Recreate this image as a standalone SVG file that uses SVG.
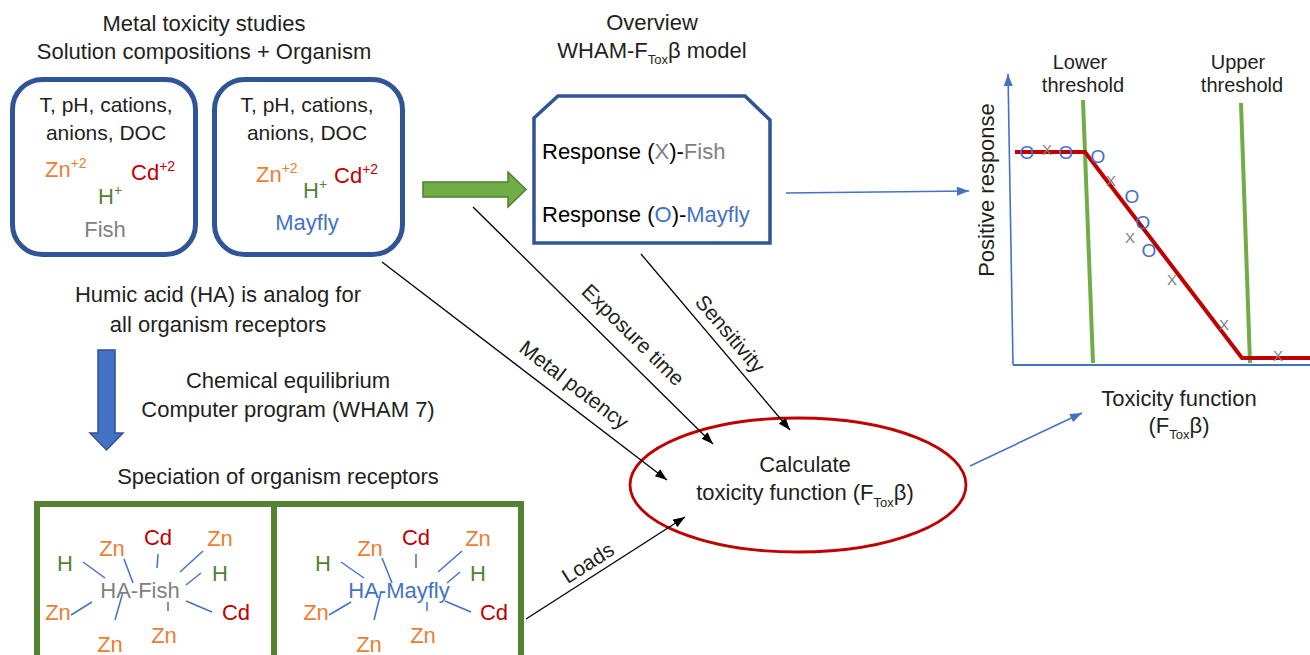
<svg xmlns="http://www.w3.org/2000/svg" width="1310" height="655" viewBox="0 0 1310 655">
  <defs>
    <style>
      text { font-family: "Liberation Sans", Arial, sans-serif; fill: #231F20; }
      .t22 { font-size: 22px; }
      .t21 { font-size: 21px; }
      .t20 { font-size: 20px; }
      .zn { fill: #ED7D31; }
      .cd { fill: #C00000; }
      .h { fill: #548235; }
      .fish { fill: #7F7F7F; }
      .may { fill: #4472C4; }
      .sup { font-size: 14px; }
      .sub { font-size: 13px; }
      .obox { fill: #fff; stroke: #2F5597; stroke-width: 5; }
      .gbox { fill: none; stroke: #548235; stroke-width: 6; }
      .link { stroke: #000; stroke-width: 1.3; fill: none; }
      .blink { stroke: #4472C4; stroke-width: 1.6; fill: none; }
      .tick { stroke: #4472C4; stroke-width: 1.5; }
      .o { font-size: 19px; fill: #4472C4; }
      .x { font-size: 15px; fill: #7F7F7F; }
    </style>
    <marker id="ah" viewBox="0 0 12 9" refX="12" refY="4.5" markerWidth="12" markerHeight="9" markerUnits="userSpaceOnUse" orient="auto">
      <path d="M0,0 L12,4.5 L0,9 z" fill="#000"/>
    </marker>
    <marker id="ahb" viewBox="0 0 12 9" refX="12" refY="4.5" markerWidth="12" markerHeight="9" markerUnits="userSpaceOnUse" orient="auto">
      <path d="M0,0 L12,4.5 L0,9 z" fill="#4472C4"/>
    </marker>
  </defs>
  <rect width="1310" height="655" fill="#fff"/>

  <!-- headings -->
  <g id="title-studies">
    <text class="t22" x="204" y="31" text-anchor="middle">Metal toxicity studies</text>
    <text class="t22" x="204" y="59" text-anchor="middle">Solution compositions + Organism</text>
  </g>
  <g id="title-overview">
    <text class="t22" x="652" y="30" text-anchor="middle">Overview</text>
    <text class="t22" x="652" y="58" text-anchor="middle">WHAM-F<tspan class="sub" dy="6">Tox</tspan><tspan dy="-6">β model</tspan></text>
  </g>

  <!-- solution boxes -->
  <g id="box-fish">
    <rect class="obox" x="12.5" y="79.5" width="183" height="175" rx="30"/>
    <text class="t21" x="106" y="112" text-anchor="middle">T, pH, cations,</text>
    <text class="t21" x="106" y="140" text-anchor="middle">anions, DOC</text>
    <text class="t22 zn" x="45" y="177">Zn<tspan class="sup" dy="-9">+2</tspan></text>
    <text class="t22 cd" x="131" y="180">Cd<tspan class="sup" dy="-9">+2</tspan></text>
    <text class="t22 h" x="98" y="204">H<tspan class="sup" dy="-9">+</tspan></text>
    <text class="t22 fish" x="105" y="237" text-anchor="middle">Fish</text>
  </g>
  <g id="box-mayfly">
    <rect class="obox" x="214.5" y="79.5" width="188" height="175" rx="30"/>
    <text class="t21" x="307" y="112" text-anchor="middle">T, pH, cations,</text>
    <text class="t21" x="307" y="140" text-anchor="middle">anions, DOC</text>
    <text class="t22 zn" x="256" y="182">Zn<tspan class="sup" dy="-9">+2</tspan></text>
    <text class="t22 h" x="303" y="198">H<tspan class="sup" dy="-9">+</tspan></text>
    <text class="t22 cd" x="334" y="183">Cd<tspan class="sup" dy="-9">+2</tspan></text>
    <text class="t22 may" x="307" y="230" text-anchor="middle">Mayfly</text>
  </g>

  <!-- block arrows -->
  <g id="arrow-green">
    <polygon points="423,182 508,182 508,172 526,189.5 508,207 508,197 423,197" fill="#70AD47" stroke="#507E32" stroke-width="1.5"/>
  </g>
  <g id="arrow-down">
    <polygon points="98,350 115,350 115,433 123,433 106.5,450 90,433 98,433" fill="#4472C4" stroke="#2F528F" stroke-width="1.5"/>
  </g>

  <!-- model overview -->
  <g id="overview-box">
    <polygon points="534,118 558,96 745,96 770,120 770,243 534,243" fill="#fff" stroke="#2F5597" stroke-width="3.5"/>
    <text class="t22" x="542" y="159" style="fill:#000">Response (<tspan class="fish">X</tspan>)-<tspan class="fish">Fish</tspan></text>
    <text class="t22" x="542" y="222" style="fill:#000">Response (<tspan class="may">O</tspan>)-<tspan class="may">Mayfly</tspan></text>
  </g>

  <g id="notes">
    <text class="t22" x="218" y="302" text-anchor="middle">Humic acid (HA) is analog for</text>
    <text class="t22" x="218" y="332" text-anchor="middle">all organism receptors</text>
    <text class="t22" x="288" y="388" text-anchor="middle">Chemical equilibrium</text>
    <text class="t22" x="288" y="417" text-anchor="middle">Computer program (WHAM 7)</text>
    <text class="t22" x="278" y="484" text-anchor="middle">Speciation of organism receptors</text>
  </g>

  <!-- speciation boxes -->
  <g id="speciation">
    <rect class="gbox" x="37" y="504" width="484" height="200"/>
    <line class="gbox" x1="274" y1="504" x2="274" y2="660"/>
  </g>
  <g id="ha-fish">
    <g class="tick">
      <line x1="83" y1="562" x2="105" y2="578"/>
      <line x1="124" y1="559" x2="133" y2="583"/>
      <line x1="158" y1="554" x2="157" y2="568"/>
      <line x1="203" y1="551" x2="180" y2="572"/>
      <line x1="201" y1="573" x2="186" y2="585"/>
      <line x1="92" y1="602" x2="71" y2="615"/>
      <line x1="123" y1="592" x2="115" y2="620"/>
      <line x1="168" y1="602" x2="168" y2="611"/>
      <line x1="186" y1="601" x2="212" y2="612"/>
    </g>
    <text class="t22 h" x="65" y="571" text-anchor="middle">H</text>
    <text class="t22 zn" x="112" y="556" text-anchor="middle">Zn</text>
    <text class="t22 cd" x="158" y="545" text-anchor="middle">Cd</text>
    <text class="t22 zn" x="220" y="546" text-anchor="middle">Zn</text>
    <text class="t22 h" x="220" y="581" text-anchor="middle">H</text>
    <text class="t22 fish" x="140" y="598" text-anchor="middle">HA-Fish</text>
    <text class="t22 zn" x="58" y="620" text-anchor="middle">Zn</text>
    <text class="t22 cd" x="236" y="620" text-anchor="middle">Cd</text>
    <text class="t22 zn" x="164" y="643" text-anchor="middle">Zn</text>
    <text class="t22 zn" x="110" y="652" text-anchor="middle">Zn</text>
  </g>
  <g id="ha-mayfly">
    <g class="tick">
      <line x1="341" y1="562" x2="364" y2="578"/>
      <line x1="382" y1="558" x2="392" y2="583"/>
      <line x1="416" y1="554" x2="416" y2="568"/>
      <line x1="462" y1="551" x2="438" y2="572"/>
      <line x1="460" y1="572" x2="447" y2="583"/>
      <line x1="351" y1="602" x2="329" y2="615"/>
      <line x1="381" y1="592" x2="374" y2="620"/>
      <line x1="427" y1="602" x2="427" y2="611"/>
      <line x1="445" y1="601" x2="471" y2="612"/>
    </g>
    <text class="t22 h" x="323" y="571" text-anchor="middle">H</text>
    <text class="t22 zn" x="370" y="556" text-anchor="middle">Zn</text>
    <text class="t22 cd" x="416" y="545" text-anchor="middle">Cd</text>
    <text class="t22 zn" x="478" y="546" text-anchor="middle">Zn</text>
    <text class="t22 h" x="478" y="581" text-anchor="middle">H</text>
    <text class="t22 may" x="399" y="598" text-anchor="middle">HA-Mayfly</text>
    <text class="t22 zn" x="316" y="620" text-anchor="middle">Zn</text>
    <text class="t22 cd" x="494" y="620" text-anchor="middle">Cd</text>
    <text class="t22 zn" x="423" y="643" text-anchor="middle">Zn</text>
    <text class="t22 zn" x="369" y="652" text-anchor="middle">Zn</text>
  </g>

  <!-- central calculation -->
  <g id="calc">
    <ellipse cx="798" cy="485" rx="168" ry="67" fill="none" stroke="#C00000" stroke-width="2.8"/>
    <text class="t22" x="805" y="472" text-anchor="middle">Calculate</text>
    <text class="t22" x="805" y="500" text-anchor="middle">toxicity function (F<tspan class="sub" dy="7">Tox</tspan><tspan dy="-7">β)</tspan></text>
  </g>

  <!-- response chart -->
  <g id="chart">
    <line class="blink" x1="1013" y1="365" x2="1008" y2="74" marker-end="url(#ahb)" stroke-width="2"/>
    <line x1="1013" y1="365" x2="1310" y2="365" stroke="#4472C4" stroke-width="2"/>
    <text class="t22" transform="translate(994,190) rotate(-90)" text-anchor="middle">Positive response</text>
    <text class="t20" x="1080" y="69" text-anchor="middle">Lower</text>
    <text class="t20" x="1083" y="92" text-anchor="middle">threshold</text>
    <text class="t20" x="1238" y="69" text-anchor="middle">Upper</text>
    <text class="t20" x="1242" y="92" text-anchor="middle">threshold</text>
    <line x1="1083" y1="100" x2="1093" y2="363" stroke="#70AD47" stroke-width="4"/>
    <line x1="1241" y1="103" x2="1250" y2="363" stroke="#70AD47" stroke-width="4"/>
    <polyline points="1015,152 1085,152 1242,358 1310,358" fill="none" stroke="#C00000" stroke-width="4"/>
    <g text-anchor="middle">
      <text class="o" x="1027" y="159">O</text>
      <text class="o" x="1066" y="159">O</text>
      <text class="o" x="1098" y="163">O</text>
      <text class="o" x="1132" y="203">O</text>
      <text class="o" x="1143" y="229">O</text>
      <text class="o" x="1149" y="257">O</text>
      <text class="x" x="1047" y="155">X</text>
      <text class="x" x="1111" y="186">X</text>
      <text class="x" x="1130" y="243">X</text>
      <text class="x" x="1172" y="285">X</text>
      <text class="x" x="1224" y="330">X</text>
      <text class="x" x="1278" y="361">X</text>
    </g>
    <text class="t22" x="1179" y="406" text-anchor="middle">Toxicity function</text>
    <text class="t22" x="1179" y="433" text-anchor="middle">(F<tspan class="sub" dy="6">Tox</tspan><tspan dy="-6">β)</tspan></text>
  </g>

  <!-- connectors -->
  <g id="connectors">
    <line class="link" x1="382" y1="262" x2="667" y2="480" marker-end="url(#ah)"/>
    <line class="link" x1="473" y1="207" x2="713" y2="444" marker-end="url(#ah)"/>
    <line class="link" x1="641" y1="254" x2="790" y2="430" marker-end="url(#ah)"/>
    <line class="link" x1="526" y1="619" x2="685" y2="517" marker-end="url(#ah)"/>
    <line class="blink" x1="786" y1="193" x2="969" y2="191" marker-end="url(#ahb)"/>
    <line class="blink" x1="970" y1="466" x2="1082" y2="413" marker-end="url(#ahb)"/>
    <text class="t21" transform="translate(574,385) rotate(37.4)" text-anchor="middle" y="7">Metal potency</text>
    <text class="t21" transform="translate(633,335) rotate(44.6)" text-anchor="middle" y="7">Exposure time</text>
    <text class="t21" transform="translate(730,334) rotate(49.7)" text-anchor="middle" y="7">Sensitivity</text>
    <text class="t21" transform="translate(588,563) rotate(-32.7)" text-anchor="middle" y="7">Loads</text>
  </g>
</svg>
